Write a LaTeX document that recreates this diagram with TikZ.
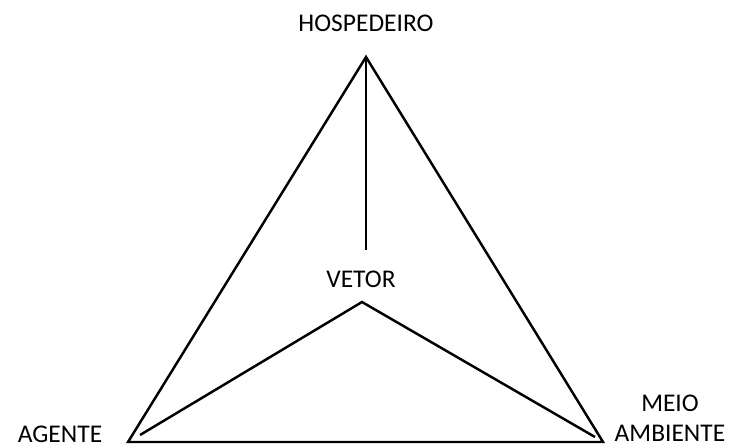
\documentclass[tikz,border=0pt]{standalone}
\usepackage{fontspec}
\setmainfont{Carlito}
\usetikzlibrary{positioning}
\tikzset{
    edge/.style={draw=black, line width=1.4pt, line join=miter},
    label/.style={font=\fontsize{14.5}{17}\selectfont, text=black, align=center, inner sep=1pt}
}
\begin{document}
\begin{tikzpicture}[x=0.02cm, y=-0.02cm]
    \useasboundingbox (0,0) rectangle (732,447);

    % Corners of the triangle
    \coordinate (top) at (366,57);
    \coordinate (left) at (128,442);
    \coordinate (right) at (603,442);

    % Inner points
    \coordinate (stem) at (366,250);
    \coordinate (inner) at (362,302);
    \coordinate (innerleft) at (140,435);
    \coordinate (innerright) at (595,437);

    % Labels
    \node[label] (hosp) at (366,23) {HOSPEDEIRO};
    \node[label] (vetor) at (361,279) {VETOR};
    \node[label] (agente) at (60,434) {AGENTE};
    \node[label] (meio) at (670,418) {MEIO\\AMBIENTE};

    % Triangle
    \draw[edge] (top) -- (left) -- (right) -- cycle;

    % Lines to the vector
    \draw[edge] (top) -- (stem);
    \draw[edge] (innerleft) -- (inner) -- (innerright);

\end{tikzpicture}
\end{document}
